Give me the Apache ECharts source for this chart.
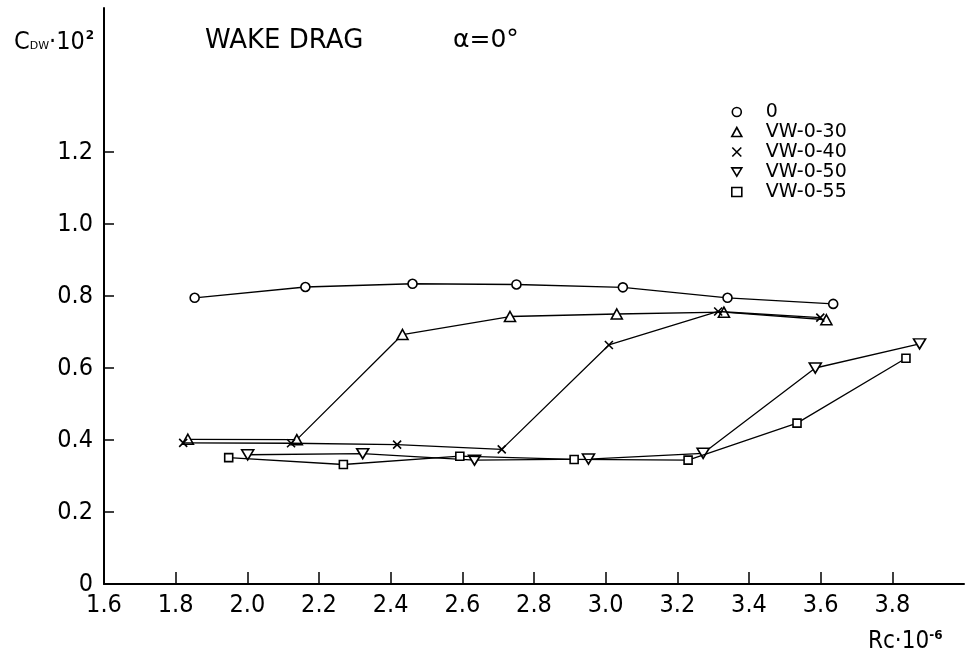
<!DOCTYPE html>
<html><head><meta charset="utf-8">
<script src="https://cdn.jsdelivr.net/npm/echarts@6/dist/echarts.min.js"></script>
<style>html,body{margin:0;padding:0;background:#fff}#c{width:967px;height:662px}</style>
</head><body><div id="c"></div>
<script>
// ---- data ----
const seriesNames = ['0', 'VW-0-30', 'VW-0-40', 'VW-0-50', 'VW-0-55'];

const rc0    = [1.853, 2.162, 2.461, 2.751, 3.048, 3.340, 3.635];
const cdw0   = [0.795, 0.825, 0.834, 0.832, 0.824, 0.795, 0.778];

const rc30   = [1.834, 2.138, 2.433, 2.733, 3.031, 3.330, 3.616];
const cdw30  = [0.402, 0.401, 0.693, 0.743, 0.750, 0.755, 0.734];

const rc40   = [1.821, 2.122, 2.418, 2.710, 3.009, 3.314, 3.599];
const cdw40  = [0.392, 0.391, 0.387, 0.374, 0.664, 0.757, 0.740];

const rc50   = [2.001, 2.322, 2.634, 2.952, 3.272, 3.585, 3.876];
const cdw50  = [0.359, 0.362, 0.344, 0.347, 0.363, 0.600, 0.667];

const rc55   = [1.948, 2.268, 2.593, 2.912, 3.230, 3.534, 3.838];
const cdw55  = [0.351, 0.332, 0.355, 0.346, 0.344, 0.447, 0.627];

const xTicks = [1.6, 1.8, 2.0, 2.2, 2.4, 2.6, 2.8, 3.0, 3.2, 3.4, 3.6, 3.8];
const yTicks = [0, 0.2, 0.4, 0.6, 0.8, 1.0, 1.2];

// ---- chart ----
const NARROW = "'Liberation Sans Narrow','DejaVu Sans Condensed',sans-serif";
const WIDE = "'DejaVu Sans',sans-serif";
const pair = (xs, ys) => xs.map((x, i) => [x, ys[i]]);

const symbols = [
  { symbol: 'circle', size: 9 },
  { symbol: 'triangle', size: [11, 10] },
  { symbol: 'path://M0,0L10,10M10,0L0,10', size: 8 },
  { symbol: 'path://M0,0L12,0L6,10Z', size: [12, 10] },
  { symbol: 'rect', size: 8 }
];
const datasets = [pair(rc0, cdw0), pair(rc30, cdw30), pair(rc40, cdw40), pair(rc50, cdw50), pair(rc55, cdw55)];

const chart = echarts.init(document.getElementById('c'), null, { renderer: 'canvas' });
chart.setOption({
  backgroundColor: '#fff',
  animation: false,
  grid: { left: 104, right: 3, top: 8, bottom: 78, containLabel: false },
  xAxis: {
    type: 'value', min: 1.6, max: 4.0, interval: 0.2,
    axisLine: { show: true, lineStyle: { color: '#000', width: 2 } },
    axisTick: { show: true, inside: true, length: 12, lineStyle: { color: '#000', width: 1.5 }, customValues: xTicks },
    axisLabel: { customValues: xTicks, margin: 9, color: '#000', fontSize: 25, fontFamily: NARROW,
      formatter: v => v.toFixed(1) },
    splitLine: { show: false }
  },
  yAxis: {
    type: 'value', min: 0, max: 1.6, interval: 0.2,
    axisLine: { show: true, lineStyle: { color: '#000', width: 2 } },
    axisTick: { show: true, inside: true, length: 10, lineStyle: { color: '#000', width: 1.5 }, customValues: yTicks },
    axisLabel: { customValues: yTicks, margin: 11, color: '#000', fontSize: 25, fontFamily: NARROW,
      formatter: v => v === 0 ? '0' : v.toFixed(1) },
    splitLine: { show: false }
  },
  legend: {
    orient: 'vertical', left: 726, top: 97,
    itemWidth: 10, itemHeight: 9, itemGap: 0,
    textStyle: { color: '#000', fontSize: 19, fontFamily: WIDE, lineHeight: 20, padding: [0, 0, 0, 19] },
    data: seriesNames.map((n, i) => ({ name: n, icon: symbols[i].symbol })),
    itemStyle: { color: '#fff', borderColor: '#000', borderWidth: 1.6 }
  },
  series: seriesNames.map((n, i) => ({
    name: n, type: 'line', data: datasets[i],
    symbol: symbols[i].symbol, symbolSize: symbols[i].size,
    showAllSymbol: true,
    lineStyle: { color: '#000', width: 1.3 },
    itemStyle: { color: '#fff', borderColor: '#000', borderWidth: 1.6 },
    z: 2 + i
  })),
  graphic: [
    { type: 'text', left: 14, top: 30, style: {
        text: '{c|C}{s|DW}{c|·10}{p|2}', fill: '#000',
        rich: {
          c: { fontSize: 25, fontFamily: NARROW, fill: '#000', verticalAlign: 'bottom' },
          s: { fontSize: 11, fontFamily: WIDE, fill: '#000', verticalAlign: 'bottom', padding: [0, 0, 3, 0] },
          p: { fontSize: 12, fontFamily: WIDE, fontWeight: 'bold', fill: '#000', verticalAlign: 'top', padding: [0, 0, 0, 1] }
        } } },
    { type: 'text', left: 205, top: 28, style: { text: 'WAKE DRAG', fill: '#000', fontSize: 26, fontFamily: WIDE } },
    { type: 'text', left: 453, top: 28, style: { text: 'α=0°', fill: '#000', fontSize: 25, fontFamily: WIDE } },
    { type: 'text', left: 868, top: 630, style: {
        text: '{c|Rc·10}{p|-6}', fill: '#000',
        rich: {
          c: { fontSize: 24, fontFamily: NARROW, fill: '#000', verticalAlign: 'bottom' },
          p: { fontSize: 12, fontFamily: WIDE, fontWeight: 'bold', fill: '#000', verticalAlign: 'top' }
        } } }
  ]
});
</script></body></html>
